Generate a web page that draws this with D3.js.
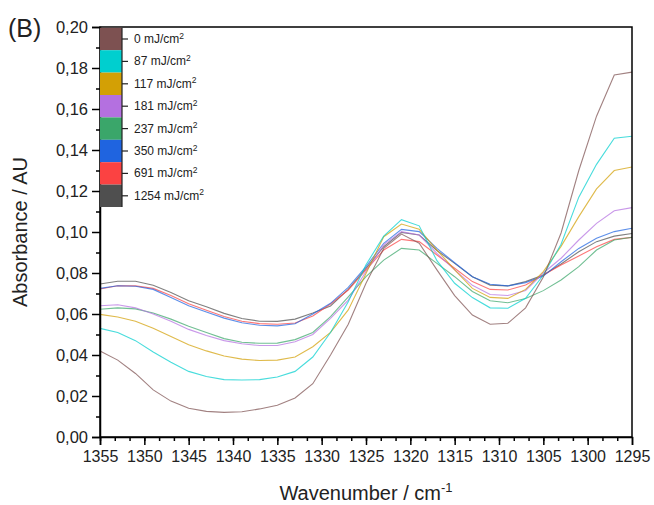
<!DOCTYPE html>
<html>
<head>
<meta charset="utf-8">
<script src="https://cdn.jsdelivr.net/npm/d3@7"></script>
<style>
  body { margin: 0; background: #fff; }
  svg { font-family: "Liberation Sans", Arial, sans-serif; }
</style>
</head>
<body>
<div id="chart"></div>
<script>
// wavenumber grid, cm-1 (every 2 cm-1, high to low)
var wavenumbers = d3.range(1355, 1294, -2);

var labels = ["0", "87", "117", "181", "237", "350", "691", "1254"];
var colors = ["#7d5151", "#00cfcf", "#d3a005", "#b470e0", "#3aa66a", "#1f64e0", "#fb4242", "#4f4f4f"];

var s0 = [0.042, 0.0375, 0.031, 0.023, 0.0175, 0.014, 0.0125, 0.012, 0.0123, 0.0137, 0.0155, 0.019, 0.026, 0.040, 0.055, 0.075, 0.092, 0.099, 0.0945, 0.0815, 0.069, 0.0595, 0.055, 0.0555, 0.063, 0.078, 0.0995, 0.130, 0.1565, 0.1766, 0.178];
var s87 = [0.053, 0.051, 0.047, 0.0415, 0.0365, 0.032, 0.0295, 0.028, 0.0278, 0.028, 0.0293, 0.032, 0.039, 0.051, 0.066, 0.084, 0.098, 0.106, 0.103, 0.086, 0.075, 0.068, 0.063, 0.0628, 0.0677, 0.079, 0.094, 0.117, 0.133, 0.1457, 0.1467];
var s117 = [0.0598, 0.0585, 0.0565, 0.053, 0.049, 0.045, 0.042, 0.0395, 0.038, 0.0373, 0.0375, 0.039, 0.044, 0.051, 0.062, 0.0798, 0.0977, 0.1039, 0.1013, 0.0912, 0.0815, 0.0725, 0.0681, 0.0676, 0.072, 0.0807, 0.093, 0.1075, 0.121, 0.130, 0.1317];
var s181 = [0.064, 0.0645, 0.063, 0.060, 0.0565, 0.0525, 0.0495, 0.047, 0.0455, 0.0446, 0.0446, 0.0465, 0.050, 0.0579, 0.0668, 0.0807, 0.0937, 0.1002, 0.0985, 0.0896, 0.0815, 0.074, 0.0695, 0.069, 0.0715, 0.080, 0.0872, 0.0961, 0.1042, 0.1104, 0.1119];
var s237 = [0.0623, 0.063, 0.0625, 0.0605, 0.0575, 0.054, 0.051, 0.048, 0.0462, 0.0457, 0.0458, 0.0475, 0.051, 0.0587, 0.0684, 0.0782, 0.0863, 0.092, 0.0912, 0.0847, 0.0782, 0.071, 0.0665, 0.0655, 0.0676, 0.0714, 0.0766, 0.0831, 0.0912, 0.0961, 0.0974];
var s350 = [0.0725, 0.0738, 0.0735, 0.072, 0.068, 0.064, 0.061, 0.058, 0.0557, 0.0545, 0.0542, 0.0552, 0.060, 0.0652, 0.073, 0.0831, 0.0945, 0.1013, 0.1002, 0.092, 0.085, 0.0782, 0.0745, 0.0737, 0.0753, 0.0785, 0.0855, 0.092, 0.0969, 0.1002, 0.1018];
var s691 = [0.0722, 0.0738, 0.0737, 0.0725, 0.069, 0.065, 0.0618, 0.0588, 0.0565, 0.0553, 0.055, 0.0556, 0.059, 0.0649, 0.0717, 0.0815, 0.0912, 0.0964, 0.0953, 0.0888, 0.0823, 0.0758, 0.072, 0.0717, 0.0741, 0.079, 0.0839, 0.0883, 0.0928, 0.0964, 0.0974];
var s1254 = [0.0746, 0.076, 0.076, 0.074, 0.0705, 0.0665, 0.0635, 0.0603, 0.0578, 0.0565, 0.0564, 0.0575, 0.0605, 0.0639, 0.072, 0.0823, 0.0928, 0.0998, 0.0985, 0.091, 0.0847, 0.0782, 0.0741, 0.0737, 0.0758, 0.079, 0.0844, 0.0904, 0.0953, 0.098, 0.0993];

var series = [s0, s87, s117, s181, s237, s350, s691, s1254];

var xTicks = d3.range(1355, 1294, -5);
var yTicks = d3.range(0, 0.2001, 0.02);

var W = 654, H = 505;
var m = {left: 100, right: 22, top: 27, bottom: 68};

var svg = d3.select("#chart").append("svg")
    .attr("width", W)
    .attr("height", H);

var x = d3.scaleLinear().domain([1355, 1295]).range([m.left, W - m.right]);
var y = d3.scaleLinear().domain([0, 0.20]).range([H - m.bottom, m.top]);

var fmt = function(d) { return d3.format(".2f")(d).replace(".", ","); };

// lines (drawn in reverse so 0 mJ sits on top)
var line = d3.line()
    .x(function(d, i) { return x(wavenumbers[i]); })
    .y(function(d) { return y(d); });

svg.append("g").selectAll("path")
    .data(series.map(function(s, i) { return {v: s, c: colors[i]}; }).reverse())
    .enter().append("path")
    .attr("d", function(d) { return line(d.v); })
    .attr("fill", "none")
    .attr("stroke", function(d) { return d.c; })
    .attr("stroke-opacity", 0.72)
    .attr("stroke-width", 1.1);

// frame
svg.append("rect")
    .attr("x", x(1355)).attr("y", y(0.2))
    .attr("width", x(1295) - x(1355)).attr("height", y(0) - y(0.2))
    .attr("fill", "none").attr("stroke", "#000").attr("stroke-width", 1.5);

// x axis
var xAxis = svg.append("g")
    .attr("transform", "translate(0," + y(0) + ")")
    .call(d3.axisBottom(x).tickValues(xTicks).tickSize(8).tickPadding(6).tickFormat(d3.format("d")));
svg.append("g")
    .attr("transform", "translate(0," + y(0) + ")")
    .call(d3.axisBottom(x).tickValues(d3.range(1355, 1295, -5 / 3)).tickSize(4).tickFormat(""))
    .select(".domain").remove();

// y axis
var yAxis = svg.append("g")
    .attr("transform", "translate(" + x(1355) + ",0)")
    .call(d3.axisLeft(y).tickValues(yTicks).tickSize(8).tickPadding(4).tickFormat(fmt));
svg.append("g")
    .attr("transform", "translate(" + x(1355) + ",0)")
    .call(d3.axisLeft(y).tickValues(d3.range(0.01, 0.2, 0.02)).tickSize(4).tickFormat(""))
    .select(".domain").remove();

svg.selectAll(".tick line").attr("stroke-width", 1.5);
svg.selectAll(".domain").attr("stroke-width", 1.5);
xAxis.selectAll("text").style("font-size", "16px").attr("fill", "#222");
yAxis.selectAll("text").style("font-size", "16.5px").attr("fill", "#222");

// axis titles
var xt = svg.append("text")
    .attr("x", (x(1355) + x(1295)) / 2)
    .attr("y", 500)
    .attr("text-anchor", "middle")
    .style("font-size", "20px")
    .attr("fill", "#222")
    .text("Wavenumber / cm");
xt.append("tspan").attr("dy", -8).style("font-size", "13px").text("-1");

svg.append("text")
    .attr("transform", "translate(27," + ((y(0) + y(0.2)) / 2) + ") rotate(-90)")
    .attr("text-anchor", "middle")
    .style("font-size", "20px")
    .attr("fill", "#222")
    .text("Absorbance / AU");

svg.append("text")
    .attr("x", 8).attr("y", 37)
    .style("font-size", "25px")
    .attr("fill", "#222")
    .text("(B)");

// legend as stacked swatches
var sw = 22.4, lx = x(1355), ly = y(0.2) + 0.8;
var leg = svg.append("g");
leg.selectAll("rect")
    .data(labels)
    .enter().append("rect")
    .attr("x", lx)
    .attr("y", function(d, i) { return ly + i * sw; })
    .attr("width", 22)
    .attr("height", sw)
    .attr("fill", function(d, i) { return colors[i]; });
leg.append("line")
    .attr("x1", lx + 22).attr("x2", lx + 22)
    .attr("y1", ly).attr("y2", ly + sw * labels.length)
    .attr("stroke", "#222").attr("stroke-width", 1.2);
var items = leg.selectAll("g.item")
    .data(labels)
    .enter().append("g")
    .attr("transform", function(d, i) { return "translate(" + (lx + 22) + "," + (ly + i * sw + sw / 2) + ")"; });
items.append("line").attr("x1", 0).attr("x2", 6).attr("stroke", "#222").attr("stroke-width", 1.2);
var lt = items.append("text")
    .attr("x", 12).attr("y", 4)
    .style("font-size", "12px")
    .attr("fill", "#222")
    .text(function(d) { return d + " mJ/cm"; });
lt.append("tspan").attr("dy", -4.5).style("font-size", "8.5px").text("2");
</script>
</body>
</html>
